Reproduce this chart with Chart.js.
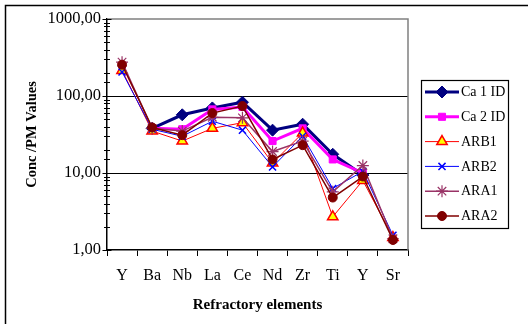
<!DOCTYPE html>
<html>
<head>
<meta charset="utf-8">
<script src="https://cdn.jsdelivr.net/npm/chart.js@4.4.1/dist/chart.umd.min.js"></script>
<style>
  html, body { margin: 0; padding: 0; background: #fff; }
  #wrap { width: 528px; height: 324px; position: relative; }
</style>
</head>
<body>
<div id="wrap"><canvas id="chart" width="528" height="324"></canvas></div>
<script>
const elements = ["Y", "Ba", "Nb", "La", "Ce", "Nd", "Zr", "Ti", "Y", "Sr"];
const ca1 = [null, 38, 57, 70, 83, 36, 43, 17.5, 9.4, null];
const ca2 = [null, 38, 37, 67, 72, 26, 38, 15, 10, null];
const arb1 = [215, 35, 26, 38, 45, 13.5, 33, 2.7, 8, 1.45];
const arb2 = [205, 37, 30, 47, 36, 12, 30, 6.3, 10.5, 1.55];
const ara1 = [275, 38, 35, 53, 52, 19, 26, 5.7, 12.5, 1.4];
const ara2 = [255, 39, 31, 60, 74, 15, 23, 4.8, 9, 1.35];
const yLabels = [1, 10, 100, 1000];

const SERIF = "'Liberation Serif', 'Times New Roman', serif";

function series(label, data, color, opts) {
  return Object.assign({
    label,
    data,
    borderColor: color,
    backgroundColor: color,
    pointBorderColor: color,
    pointBackgroundColor: color,
    borderWidth: 1,
    pointBorderWidth: 1,
    tension: 0,
    spanGaps: false,
  }, opts);
}

// later series sit on top, as in the original
const datasets = [
  series("Ca 1 ID", ca1, "#000080", { borderWidth: 3, pointStyle: "rectRot", pointRadius: 6, order: 5 }),
  series("Ca 2 ID", ca2, "#FF00FF", { borderWidth: 3, pointStyle: "rect", pointRadius: 5, order: 4 }),
  series("ARB1", arb1, "#FF0000", { pointStyle: "triangle", pointRadius: 6, pointBackgroundColor: "#FFFF00", pointBorderWidth: 1.5, order: 3 }),
  series("ARB2", arb2, "#0000FF", { pointStyle: "crossRot", pointRadius: 5, pointBorderWidth: 1.5, order: 2 }),
  series("ARA1", ara1, "#993366", { borderWidth: 1.5, pointStyle: "star", pointRadius: 6, pointBorderWidth: 1.2, order: 1 }),
  series("ARA2", ara2, "#800000", { borderWidth: 1.5, pointStyle: "circle", pointRadius: 4.5, order: 0 }),
];

const isMajor = v => yLabels.includes(Math.round(v * 1000) / 1000);

const decor = {
  id: "decor",
  beforeDraw(chart) {
    // outer frame (only top and left edges fall inside the picture)
    const ctx = chart.ctx;
    ctx.save();
    ctx.strokeStyle = "#000";
    ctx.lineWidth = 1.5;
    ctx.beginPath();
    ctx.moveTo(5.5, 340);
    ctx.lineTo(5.5, 5.5);
    ctx.lineTo(540, 5.5);
    ctx.stroke();
    ctx.restore();
  },
  afterDatasetsDraw(chart) {
    const ctx = chart.ctx;
    const a = chart.chartArea;
    const y = chart.scales.y;
    ctx.save();
    ctx.strokeStyle = "#808080";
    ctx.lineWidth = 1.5;
    ctx.beginPath();
    ctx.moveTo(a.left, a.top);
    ctx.lineTo(a.right, a.top);
    ctx.lineTo(a.right, a.bottom);
    ctx.stroke();
    // y ticks cross the axis
    ctx.strokeStyle = "#000";
    ctx.lineWidth = 1;
    y.ticks.forEach(t => {
      const py = Math.round(y.getPixelForValue(t.value)) + 0.5;
      const len = isMajor(t.value) ? 4.5 : 3;
      ctx.beginPath();
      ctx.moveTo(a.left - len, py);
      ctx.lineTo(a.left + len, py);
      ctx.stroke();
    });
    ctx.restore();
  },
  afterDraw(chart) {
    const ctx = chart.ctx;
    const bx = 421.5, by = 80.5, bw = 87, bh = 148;
    ctx.save();
    ctx.fillStyle = "#fff";
    ctx.fillRect(bx, by, bw, bh);
    ctx.strokeStyle = "#000";
    ctx.lineWidth = 1.2;
    ctx.strokeRect(bx, by, bw, bh);
    ctx.font = "14px " + SERIF;
    ctx.textBaseline = "middle";
    chart.data.datasets.forEach((ds, i) => {
      const ly = 92 + i * 24.8;
      ctx.strokeStyle = ds.borderColor;
      ctx.lineWidth = ds.borderWidth;
      ctx.beginPath();
      ctx.moveTo(425, ly);
      ctx.lineTo(459, ly);
      ctx.stroke();
      ctx.fillStyle = ds.pointBackgroundColor;
      ctx.strokeStyle = ds.pointBorderColor;
      ctx.lineWidth = ds.pointBorderWidth;
      Chart.helpers.drawPoint(ctx, {
        pointStyle: ds.pointStyle,
        radius: ds.pointRadius,
        rotation: 0,
        borderWidth: ds.pointBorderWidth,
      }, 442, ly);
      ctx.fillStyle = "#000";
      ctx.fillText(ds.label, 461, ly + 0.5);
    });
    ctx.restore();
  },
};

new Chart(document.getElementById("chart"), {
  type: "line",
  data: { labels: elements, datasets },
  options: {
    responsive: false,
    animation: false,
    layout: { padding: { left: 0, top: 19, right: 120, bottom: 0 } },
    plugins: { legend: { display: false }, tooltip: { enabled: false } },
    scales: {
      x: {
        type: "category",
        offset: true,
        border: { color: "#000", width: 1.5 },
        grid: { offset: true, drawOnChartArea: false, tickLength: 6, color: "#000", tickColor: "#000" },
        ticks: { color: "#000", font: { family: SERIF, size: 16 }, padding: 10, maxRotation: 0, autoSkip: false },
        title: { display: true, text: "Refractory elements", color: "#000", font: { family: SERIF, size: 15, weight: "bold" }, padding: { top: 0, bottom: 10 } },
        afterFit: s => { s.height = 74; },
      },
      y: {
        type: "logarithmic",
        min: 1,
        max: 1000,
        border: { color: "#000", width: 1.5 },
        grid: {
          drawTicks: false,
          color: c => (c.tick && (c.tick.value === 10 || c.tick.value === 100)) ? "#000" : "rgba(0,0,0,0)",
          lineWidth: 1,
        },
        ticks: {
          color: "#000",
          font: { family: SERIF, size: 16.5 },
          padding: 6,
          autoSkip: false,
          callback: v => isMajor(v) ? v.toFixed(2).replace(".", ",") : "",
        },
        title: { display: true, text: "Conc /PM Values", color: "#000", font: { family: SERIF, size: 14.5, weight: "bold" }, padding: { top: 24, bottom: 0 } },
        afterFit: s => { s.width = 107; },
      },
    },
  },
  plugins: [decor],
});
</script>
</body>
</html>
